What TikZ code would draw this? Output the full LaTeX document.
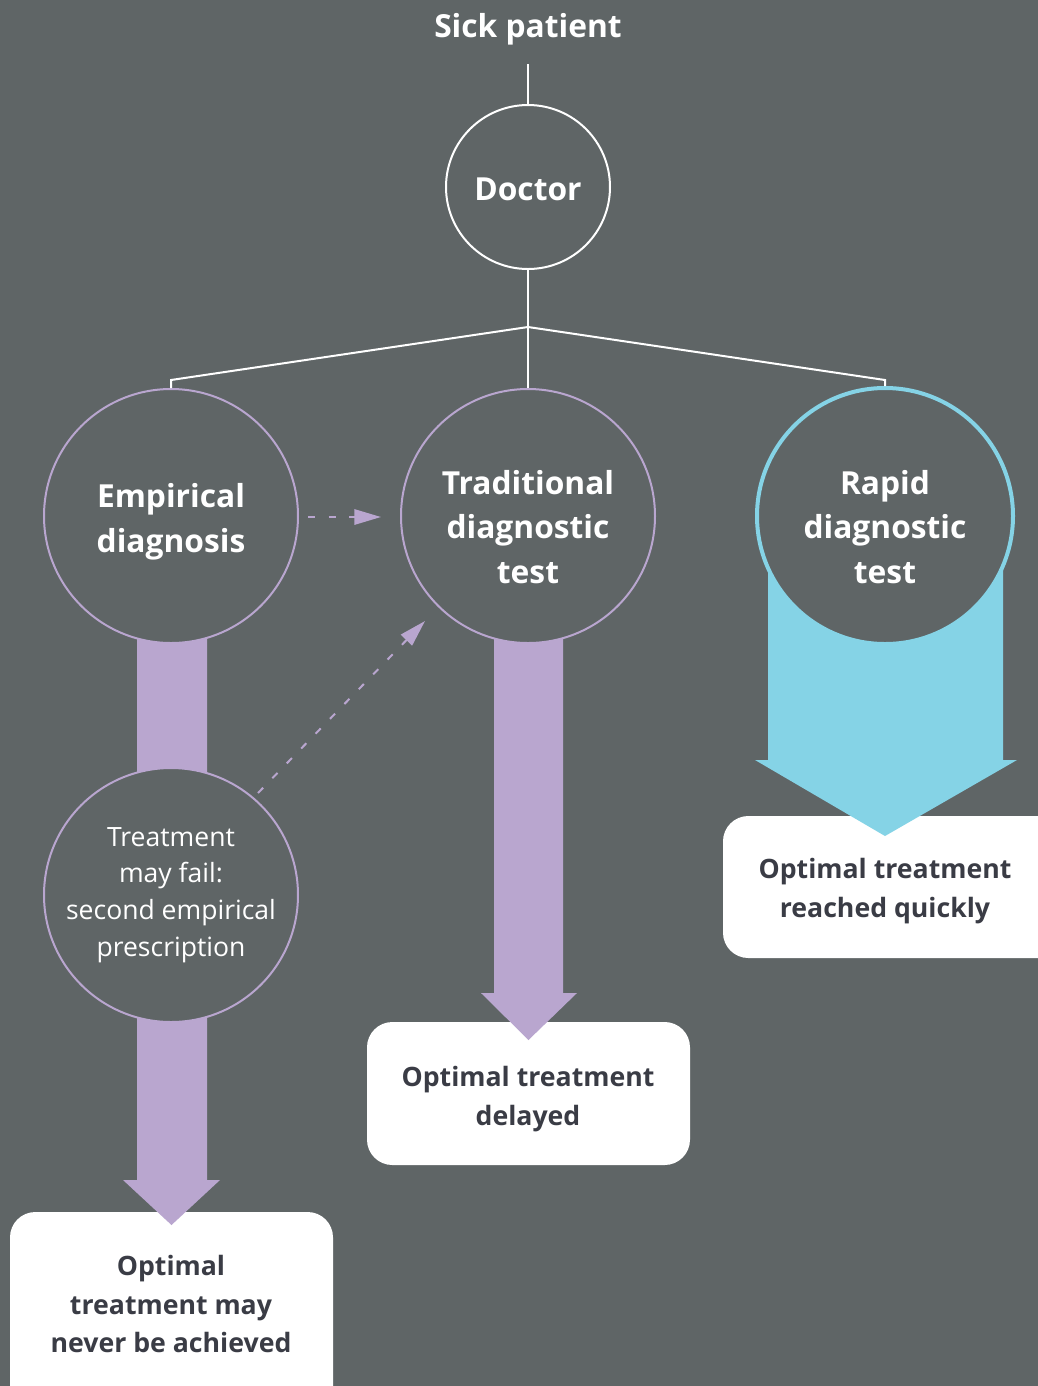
\documentclass[tikz,border=0pt]{standalone}
\usepackage{fontspec}
\setmainfont{Open Sans}
\usetikzlibrary{arrows.meta}
\definecolor{bg}{HTML}{5F6566}
\definecolor{lav}{HTML}{B9A6CF}
\definecolor{sky}{HTML}{85D3E6}
\definecolor{ink}{HTML}{3A3C45}
\newcommand{\lowered}[2]{\raisebox{-#1}[\height][\depth]{\parbox{160pt}{\centering #2}}}
\tikzset{
  title/.style={text=white, font=\fontsize{23.8}{33.4}\selectfont\bfseries, align=center},
  bigcirc/.style={circle, draw=lav, line width=1.5pt, fill=bg, minimum size=190.5pt, inner sep=0pt},
  outbox/.style={draw=none, fill=white, rounded corners=19pt},
  boxtext/.style={text=ink, font=\fontsize{20}{29.2}\selectfont\bfseries, align=center},
  tree/.style={draw=white, line width=1.5pt},
  dasharrow/.style={draw=lav, line width=1.5pt, dash pattern=on 5.5pt off 10pt, -{Triangle[length=20pt,width=11.5pt]}},
}
\begin{document}
\begin{tikzpicture}[x=0.75pt,y=-0.75pt]
\useasboundingbox (0,0) rectangle (1038,1386);
\clip (0,0) rectangle (1038,1386);
\fill[bg] (0,0) rectangle (1038,1386);

% output boxes
\path[outbox] (723,816) rectangle (1070,958);
\path[outbox] (367,1022) rectangle (690,1165);
\path[outbox] (10,1212) rectangle (333,1420);
\node[boxtext] (outR) at (885,891) {Optimal treatment\\reached quickly};
\node[boxtext] (outM) at (528,1099) {Optimal treatment\\delayed};
\node[boxtext] (outL) at (171,1304) {Optimal\\treatment may\\never be achieved};

% thick arrows
\fill[sky] (768,520) -- (1003,520) -- (1003,760) -- (1017,760) -- (885,836) -- (755,760) -- (768,760) -- cycle;
\fill[lav] (494,520) -- (563,520) -- (563,993) -- (577,993) -- (528.5,1040) -- (481,993) -- (494,993) -- cycle;
\fill[lav] (137,520) -- (207,520) -- (207,1180) -- (220,1180) -- (171.5,1225) -- (123,1180) -- (137,1180) -- cycle;

% circles
\node[title] (sick) at (528,29) {Sick patient};
\node[circle, draw=white, line width=1.5pt, fill=bg, minimum size=123pt, inner sep=0pt, title] (doctor) at (528,187) {\raisebox{-1.5pt}[\height][\depth]{Doctor}};
\node[bigcirc, title] (emp) at (171,516) {\lowered{4.5pt}{Empirical\\diagnosis}};
\node[bigcirc, title] (trad) at (528,516) {\lowered{8.3pt}{Traditional\\diagnostic\\test}};
\node[bigcirc, draw=sky, line width=3pt, minimum size=192pt, title] (rapid) at (885,516) {\lowered{8.3pt}{Rapid\\diagnostic\\test}};
\node[bigcirc, text=white, font=\fontsize{19.9}{27.5}\selectfont, align=center] (fail) at (171,895) {Treatment\\may fail:\\second empirical\\prescription};

% tree connectors
\coordinate (top) at (528,64);
\coordinate (fork) at (528,327);
\coordinate (kl) at (171,380);
\coordinate (kr) at (885,380);
\draw[tree] (top) -- (doctor.north);
\draw[tree] (doctor.south) -- (fork);
\draw[tree] (fork) -- (trad.north);
\draw[tree] (fork) -- (kl) -- (emp.north);
\draw[tree] (fork) -- (kr) -- (rapid.north);

% dashed arrows
\coordinate (d1s) at (308,517);
\coordinate (d1e) at (381,517);
\coordinate (d2s) at (258,793);
\coordinate (d2e) at (425,621);
\draw[dasharrow] (d1s) -- (d1e);
\draw[dasharrow] (d2s) -- (d2e);
\end{tikzpicture}
\end{document}
